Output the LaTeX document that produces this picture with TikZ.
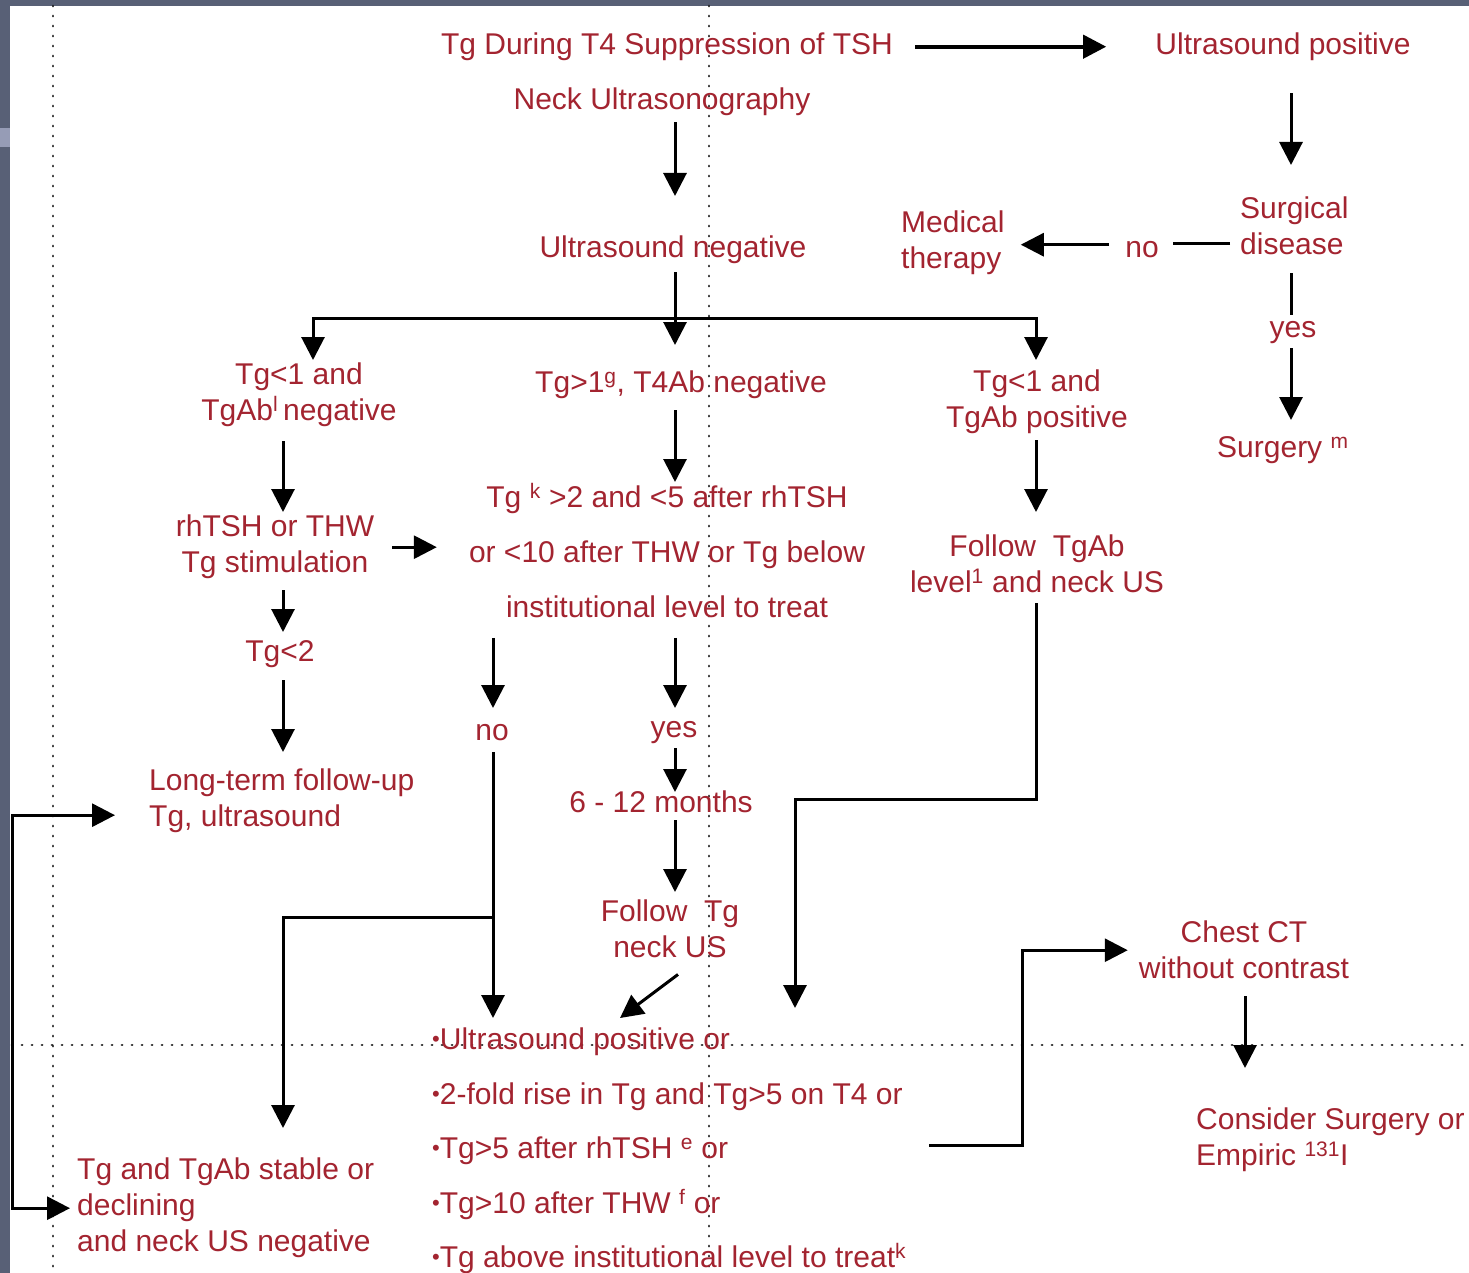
\documentclass[tikz,border=0pt]{standalone}
\usepackage{fontspec}
\setmainfont{Liberation Sans}
\usetikzlibrary{arrows.meta}
\definecolor{tred}{RGB}{163,36,48}
\definecolor{slate}{RGB}{88,96,118}
\definecolor{slatel}{RGB}{150,156,182}
\definecolor{dotc}{RGB}{25,25,25}
\newcommand{\mybul}{{\fontsize{22}{22}\selectfont\raisebox{3pt}{•}}}
\begin{document}
\begin{tikzpicture}[x=1pt,y=-1pt,
  txt/.style={text=tred, inner sep=0pt, font=\fontsize{30}{36}\selectfont},
  one/.style={txt, text height=22pt, text depth=7pt, anchor=north},
  multi/.style={txt, align=center, anchor=north},
  multil/.style={txt, align=left, anchor=north west},
  arr/.style={draw, line width=3pt, -{Triangle[width=23pt,length=23pt]}},
  arr2/.style={draw, line width=3pt, {Triangle[width=23pt,length=23pt]}-{Triangle[width=23pt,length=23pt]}},
  ln/.style={draw, line width=3pt},
  guide/.style={draw=dotc, line width=2.8pt, line cap=round, dash pattern=on 0.1pt off 9.9pt}]
\useasboundingbox (0,0) rectangle (1469,1273);
% slide background
\fill[slate] (0,0) rectangle (1469,1273);
\fill[slatel] (0,128) rectangle (10,147);
\fill[white] (10,6) rectangle (1469,1273);
% guide lines
\draw[guide] (53,6) -- (53,1273);
\draw[guide] (709,6) -- (709,1273);
\draw[guide] (12,1045) -- (1469,1045);
% column coordinates
\coordinate (cM) at (675,0);
\coordinate (cL) at (283,0);
\coordinate (cBL) at (313,0);
\coordinate (cR) at (1036,0);
\coordinate (cS) at (1291,0);
\coordinate (cN) at (493,0);
\coordinate (cC) at (1245,0);
\coordinate (cF) at (795,0);
\coordinate (cJ) at (1022,0);
\coordinate (cX) at (12,0);
\coordinate (brY) at (0,318);
\coordinate (elY) at (0,799);
\coordinate (nj) at (493,917);
% nodes
\node[one] (tg4) at (667,32) {Tg During T4 Suppression of TSH};
\node[one] (uspos) at (1283,32) {Ultrasound positive};
\node[one] (neck) at (662,87) {Neck Ultrasonography};
\node[one] (usneg) at (673,235) {Ultrasound negative};
\node[multil] (surg) at (1240,197) {Surgical\\disease};
\node[one] (no1) at (1142,235) {no};
\node[multil] (med) at (901,211) {Medical\\therapy};
\node[one] (yes1) at (1293,315) {yes};
\node[one, anchor=north west] (surgery) at (1217,435) {Surgery \textsuperscript{m}};
\node[multi] (tg1neg) at (299,363) {Tg<1 and\\TgAb\textsuperscript{l}\,negative};
\node[one] (tgmid) at (681,370) {Tg>1\textsuperscript{g}, T4Ab negative};
\node[multi] (tg1pos) at (1037,370) {Tg<1 and\\TgAb positive};
\node[multi] (rhtsh) at (275,515) {rhTSH or THW\\Tg stimulation};
\node[multi, font=\fontsize{30}{55}\selectfont] (mid3) at (667,483) {Tg \textsuperscript{k} >2 and <5 after rhTSH\\or <10 after THW or Tg below\\institutional level to treat};
\node[one] (tg2) at (280,639) {Tg<2};
\node[multil] (ltf) at (149,769) {Long-term follow-up\\Tg, ultrasound};
\node[one] (no2) at (492,718) {no};
\node[one] (yes2) at (674,715) {yes};
\node[one] (months) at (661,790) {6 - 12 months};
\node[multi] (ftg) at (670,900) {Follow~ Tg\\neck US};
\node[multi] (ftgab) at (1037,535) {Follow~ TgAb\\level\textsuperscript{1} and neck US};
\node[multil, font=\fontsize{30}{54.5}\selectfont] (bullets) at (432,1028) {\mybul Ultrasound positive or\\\mybul 2-fold rise in Tg and Tg>5 on T4 or\\\mybul Tg>5 after rhTSH \textsuperscript{e} or\\\mybul Tg>10 after THW \textsuperscript{f} or\\\mybul Tg above institutional level to treat\textsuperscript{k}};
\node[multi] (chest) at (1244,921) {Chest CT\\without contrast};
\node[multil] (consider) at (1196,1108) {Consider Surgery or\\Empiric \textsuperscript{131}I};
\node[multil] (stable) at (77,1158) {Tg and TgAb stable or\\declining\\and neck US negative};
% connectors
\draw[arr, line width=4pt] ([xshift=22pt]tg4.east) -- ([xshift=-49pt]uspos.west);
\draw[arr] ([yshift=-32pt]uspos.south -| cS) -- ([yshift=32pt]surg.north -| cS);
\draw[arr] ([yshift=-6pt]neck.south -| cM) -- ([yshift=39pt]usneg.north -| cM);
\draw[ln] ([xshift=-10pt,yshift=6pt]no1.east -| surg.west) -- ([xshift=14pt,yshift=6pt]no1.east);
\draw[arr] ([xshift=-16pt,yshift=5pt]no1.west) -- ([xshift=16pt,yshift=5pt]no1.west -| med.east);
\draw[ln] ([yshift=-18pt]surg.south -| cS) -- (yes1.north -| cS);
\draw[arr] ([yshift=-4pt]yes1.south -| cS) -- ([yshift=15pt]surgery.north -| cS);
\draw[arr] ([yshift=-8pt]usneg.south -| cM) -- ([yshift=25pt]tgmid.north -| cM);
\draw[arr2] ([yshift=3pt]tg1neg.north -| cBL) -- (cBL |- brY) -- (cR |- brY) -- ([yshift=10pt]tg1pos.north -| cR);
\draw[arr] ([yshift=-11pt]tgmid.south -| cM) -- ([yshift=1pt]mid3.north -| cM);
\draw[arr] ([yshift=-14pt]tg1neg.south -| cL) -- ([yshift=3pt]rhtsh.north -| cL);
\draw[arr] ([xshift=18pt]rhtsh.east) -- ([xshift=-32pt]rhtsh.east -| mid3.west);
\draw[arr] ([yshift=-11pt]rhtsh.south -| cL) -- ([yshift=7pt]tg2.north -| cL);
\draw[arr] ([yshift=-12pt]tg2.south -| cL) -- ([yshift=17pt]ltf.north -| cL);
\draw[arr] ([yshift=-20pt]mid3.south -| cN) -- ([yshift=10pt]no2.north -| cN);
\draw[arr] ([yshift=-20pt]mid3.south -| cM) -- ([yshift=7pt]yes2.north -| cM);
\draw[arr] ([yshift=-4pt]yes2.south -| cM) -- ([yshift=-2pt]months.north -| cM);
\draw[arr] ([yshift=-1pt]months.south -| cM) -- ([yshift=8pt]ftg.north -| cM);
\draw[arr] ([xshift=8pt,yshift=-16pt]ftg.south) -- ([xshift=188pt,yshift=10pt]bullets.north west);
\draw[arr] ([yshift=-5pt]no2.south -| cN) -- ([yshift=10pt]bullets.north -| cN);
\draw[arr] (nj) -| ([yshift=30pt]stable.north -| cL);
\draw[arr] ([yshift=-6pt]tg1pos.south -| cR) -- ([yshift=23pt]ftgab.north -| cR);
\draw[arr] ([yshift=-10pt]ftgab.south -| cR) -- (cR |- elY) -| ([yshift=20pt]bullets.north -| cF);
\draw[arr] ([xshift=23pt,yshift=6pt]bullets.east) -| (cJ |- chest.west) -- ([xshift=-11pt]chest.west);
\draw[arr] ([yshift=-17pt]chest.south -| cC) -- ([yshift=40pt]consider.north -| cC);
\draw[arr2] ([xshift=-34pt,yshift=-14pt]ltf.west) -| (cX |- stable.west) -- ([xshift=-7pt]stable.west);
\end{tikzpicture}
\end{document}
